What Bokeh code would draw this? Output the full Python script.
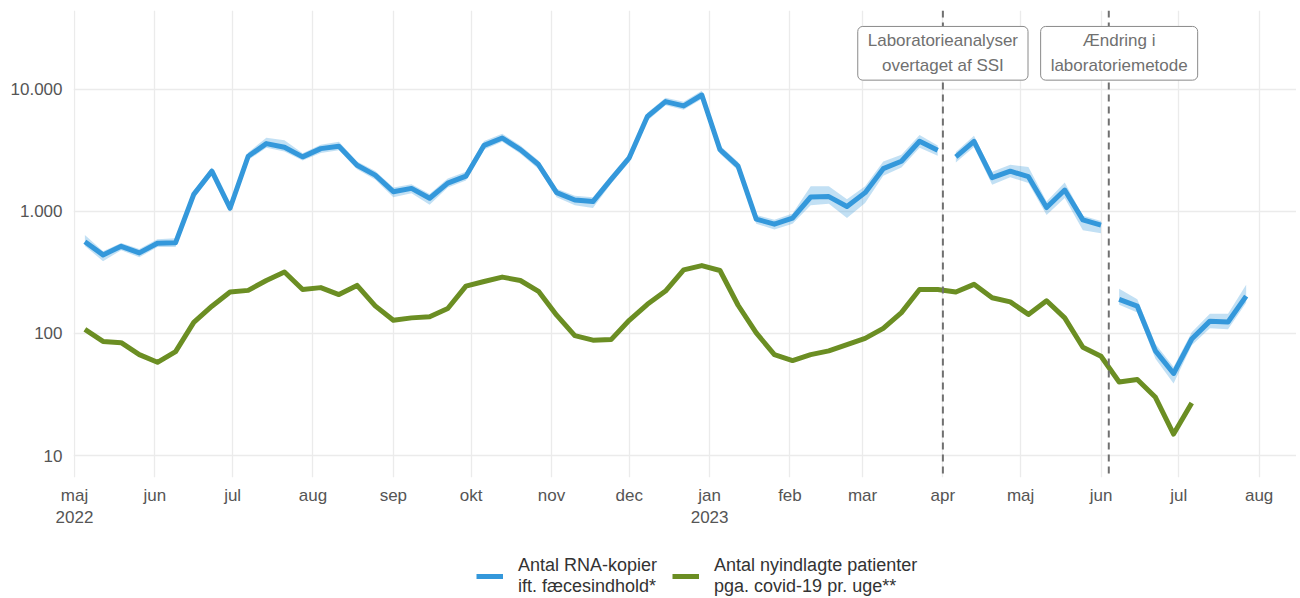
import pandas as pd
from bokeh.plotting import figure
from bokeh.layouts import column
from bokeh.models import (ColumnDataSource, FixedTicker, Span, Label, Legend,
                          LegendItem, Range1d)
from bokeh.embed import file_html
from bokeh.resources import INLINE

FONT = "Liberation Sans"

# ---------------- data ----------------
first_week = "2022-05-05"

# Weekly hospital admissions (green), weeks 0..61
admissions = [108, 86, 84, 67, 58, 71, 123, 167, 218, 225,
              271, 318, 229, 237, 208, 247, 168, 128, 134, 137,
              160, 244, 266, 289, 271, 221, 141, 96, 88, 89,
              128, 173, 222, 331, 359, 327, 170, 101, 67, 60,
              67, 72, 81, 91, 110, 148, 229, 229, 218, 252,
              196, 181, 143, 185, 134, 77, 65, 40, 42, 30,
              15, 27]

# RNA copies (blue) in three segments: weeks 0..47, 48..56, 57..64
rna_seg1 = [562, 439, 516, 456, 546, 552, 1374, 2128, 1058, 2818,
            3574, 3335, 2785, 3251, 3396, 2377, 1972, 1445, 1537, 1276,
            1700, 1936, 3459, 3973, 3192, 2410, 1419, 1236, 1199, 1820,
            2735, 5957, 7890, 7278, 8930, 3192, 2335, 861, 784, 877,
            1307, 1317, 1092, 1419, 2230, 2565, 3734, 3148]
rna_seg1_low = [520, 390, 480, 420, 510, 510, 1270, 1980, 990, 2620,
                3300, 3080, 2600, 3000, 3150, 2200, 1820, 1300, 1400, 1130,
                1560, 1780, 3200, 3700, 2950, 2220, 1300, 1120, 1060, 1680,
                2530, 5500, 7350, 6750, 8300, 2950, 2150, 790, 710, 790,
                1120, 1150, 880, 1170, 1950, 2280, 3300, 2850]
rna_seg1_high = [640, 470, 550, 490, 590, 600, 1470, 2280, 1130, 3020,
                 4000, 3800, 2980, 3500, 3700, 2550, 2130, 1560, 1660, 1380,
                 1850, 2100, 3750, 4300, 3450, 2600, 1530, 1340, 1300, 1970,
                 2950, 6400, 8500, 7850, 9700, 3450, 2530, 930, 850, 960,
                 1600, 1600, 1250, 1600, 2550, 2900, 4200, 3450]

rna_seg2 = [2785, 3734, 1880, 2128, 1915, 1072, 1490, 850, 769]
rna_seg2_low = [2500, 3350, 1650, 1900, 1700, 930, 1280, 700, 660]
rna_seg2_high = [3050, 4150, 2100, 2400, 2300, 1200, 1720, 920, 830]

rna_seg3 = [190, 167, 72, 47, 90, 126, 124, 202]
rna_seg3_low = [172, 148, 62, 39, 80, 110, 108, 178]
rna_seg3_high = [232, 190, 82, 53, 102, 145, 145, 250]

seg_start_weeks = [0, 48, 57]

month_ticks = ["2022-05-01", "2022-06-01", "2022-07-01", "2022-08-01",
               "2022-09-01", "2022-10-01", "2022-11-01", "2022-12-01",
               "2023-01-01", "2023-02-01", "2023-03-01", "2023-04-01",
               "2023-05-01", "2023-06-01", "2023-07-01", "2023-08-01"]
month_labels = ["maj\n2022", "jun", "jul", "aug", "sep", "okt", "nov", "dec",
                "jan\n2023", "feb", "mar", "apr", "maj", "jun", "jul", "aug"]

y_ticks = [10, 100, 1000, 10000]
y_labels = ["10", "100", "1.000", "10.000"]

event_dates = ["2023-04-01", "2023-06-04"]
event_label_dates = ["2023-04-01", "2023-06-08"]
event_texts = ["Laboratorieanalyser\novertaget af SSI",
               "\u00c6ndring i\nlaboratoriemetode"]

legend_labels = ["Antal RNA-kopier\nift. f\u00e6cesindhold*",
                 "Antal nyindlagte patienter\npga. covid-19 pr. uge**"]

BLUE = "#3498DB"
GREEN = "#6B8E23"

# ---------------- figure ----------------
def ms(d):
    return float(pd.Timestamp(d).value // 10**6)

weeks = pd.date_range(first_week, periods=70, freq="7D")

W = 1296
p = figure(width=W, height=530, x_axis_type="datetime", y_axis_type="log",
           output_backend="svg", toolbar_location=None,
           x_range=Range1d(pd.Timestamp("2022-04-30 14:40"), pd.Timestamp("2023-08-15 10:00")),
           y_range=Range1d(6.62, 43900),
           min_border_left=73, min_border_right=0, min_border_top=10,
           min_border_bottom=50)
p.outline_line_color = None
p.background_fill_color = "white"
p.border_fill_color = "white"

# grid
p.xgrid.ticker = FixedTicker(ticks=[ms(t) for t in month_ticks])
p.ygrid.ticker = FixedTicker(ticks=y_ticks)
for g in (p.xgrid[0], p.ygrid[0]):
    g.grid_line_color = "#EBEBEB"
    g.grid_line_width = 1.3
    g.minor_grid_line_color = None

# axes
xa = p.xaxis[0]
xa.ticker = FixedTicker(ticks=[ms(t) for t in month_ticks])
xa.major_label_overrides = {ms(t): l for t, l in zip(month_ticks, month_labels)}
ya = p.yaxis[0]
ya.ticker = FixedTicker(ticks=y_ticks)
ya.major_label_overrides = {t: l for t, l in zip(y_ticks, y_labels)}
for ax in (xa, ya):
    ax.axis_line_color = None
    ax.major_tick_line_color = None
    ax.minor_tick_line_color = None
    ax.major_tick_out = 0
    ax.major_tick_in = 0
    ax.minor_tick_out = 0
    ax.major_label_text_font = FONT
    ax.major_label_text_font_size = "17px"
    ax.major_label_text_color = "#555555"
xa.major_label_standoff = 8
ya.major_label_standoff = 11

# blue band + line segments
blue_sources = []
segs = [(rna_seg1, rna_seg1_low, rna_seg1_high),
        (rna_seg2, rna_seg2_low, rna_seg2_high),
        (rna_seg3, rna_seg3_low, rna_seg3_high)]
for s0, (v, lo, hi) in zip(seg_start_weeks, segs):
    src = ColumnDataSource(dict(x=weeks[s0:s0 + len(v)], y=v, lo=lo, hi=hi))
    p.varea(x="x", y1="lo", y2="hi", source=src, fill_color=BLUE, fill_alpha=0.3)
    p.line(x="x", y="y", source=src, line_color=BLUE, line_width=5,
           line_join="round")
    blue_sources.append(src)

gsrc = ColumnDataSource(dict(x=weeks[:len(admissions)], y=admissions))
p.line(x="x", y="y", source=gsrc, line_color=GREEN, line_width=5,
       line_join="round")

# event lines and labels
for d in event_dates:
    p.add_layout(Span(location=ms(d), dimension="height", line_color="#707070",
                      line_width=2, line_dash="7 5"))
for d, t in zip(event_label_dates, event_texts):
    p.add_layout(Label(x=ms(d), y=19600, text=t, text_align="center",
                       text_baseline="middle", text_font=FONT,
                       text_font_size="17px", text_color="#707070",
                       text_line_height=1.3,
                       background_fill_color="white", border_line_color="#8A8A8A",
                       border_line_width=1, padding=(10, 5), border_radius=5))

# ---------------- legend strip (same data, out of view) ----------------
lf = figure(width=W, height=66, x_range=p.x_range, y_range=Range1d(1e6, 1e7),
            x_axis_type="datetime", y_axis_type="log",
            x_axis_location=None, y_axis_location=None,
            output_backend="svg", toolbar_location=None,
            min_border_left=0, min_border_right=0, min_border_top=0,
            min_border_bottom=0)
lf.outline_line_color = None
lf.grid.visible = False
lb = lf.line(x="x", y="y", source=blue_sources[0], line_color=BLUE, line_width=5)
lg = lf.line(x="x", y="y", source=gsrc, line_color=GREEN, line_width=5)

legend = Legend(items=[LegendItem(label=legend_labels[0], renderers=[lb]),
                       LegendItem(label=legend_labels[1], renderers=[lg])],
                orientation="horizontal", location=(403, -1),
                label_text_font=FONT, label_text_font_size="18px",
                label_text_color="#333333", label_text_line_height=0.9,
                glyph_width=27, glyph_height=20, label_standoff=15, spacing=15,
                border_line_color=None, background_fill_alpha=0,
                padding=0, margin=0)
lf.add_layout(legend, "center")

page = column(p, lf, spacing=0)
open("out.html", "w").write(file_html(page, INLINE))
